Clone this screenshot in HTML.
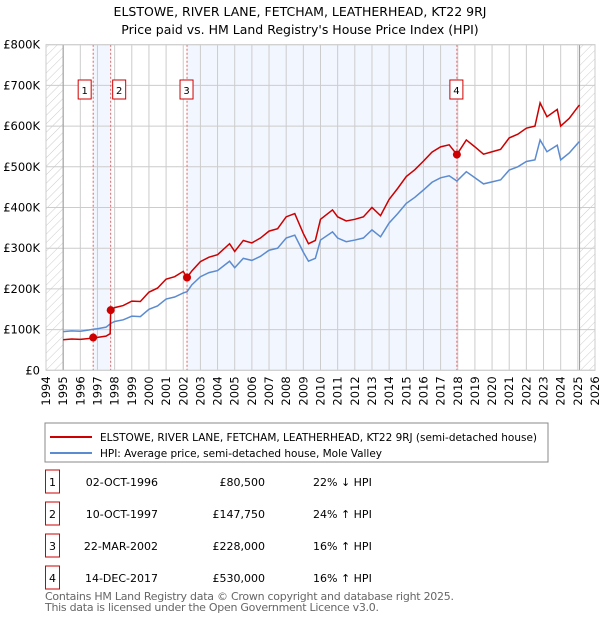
<!DOCTYPE html>
<html><head><meta charset="utf-8"><style>
body{margin:0;background:#fff;font-family:"Liberation Sans","DejaVu Sans",sans-serif}
svg text{font-family:"DejaVu Sans","Liberation Sans",sans-serif}
</style></head><body>
<svg id="c" width="600" height="620" xmlns="http://www.w3.org/2000/svg">
<defs><pattern id="h" width="6" height="6" patternUnits="userSpaceOnUse" patternTransform="rotate(45)"><line x1="0" y1="0" x2="0" y2="6" stroke="#ccc" stroke-width="1"/></pattern></defs>
<text x="300" y="16" text-anchor="middle" font-size="12.5">ELSTOWE, RIVER LANE, FETCHAM, LEATHERHEAD, KT22 9RJ</text>
<text x="300" y="34" text-anchor="middle" font-size="12.5">Price paid vs. HM Land Registry's House Price Index (HPI)</text>
<g id="plot"></g>
<rect x="45" y="423" width="503" height="39" fill="none" stroke="#888"/>
<line x1="50" y1="437" x2="92" y2="437" stroke="#cc0000" stroke-width="2"/>
<text x="100" y="441" font-size="10.5" textLength="437">ELSTOWE, RIVER LANE, FETCHAM, LEATHERHEAD, KT22 9RJ (semi-detached house)</text>
<line x1="50" y1="453" x2="92" y2="453" stroke="#5b8bd0" stroke-width="2"/>
<text x="100" y="457" font-size="10.5" textLength="282">HPI: Average price, semi-detached house, Mole Valley</text>
<g id="tbl" font-size="11"></g>
<text x="45" y="600" font-size="11" fill="#666" textLength="409">Contains HM Land Registry data © Crown copyright and database right 2025.</text>
<text x="45" y="611" font-size="11" fill="#666" textLength="334">This data is licensed under the Open Government Licence v3.0.</text>
</svg>
<script>
const years=[1995.0,1995.5,1996.0,1996.5,1996.75,1997.0,1997.5,1997.74,1997.77,1998.0,1998.5,1999.0,1999.5,2000.0,2000.5,2001.0,2001.5,2002.0,2002.22,2002.5,2003.0,2003.5,2004.0,2004.7,2005.0,2005.5,2006.0,2006.5,2007.0,2007.5,2008.0,2008.5,2009.0,2009.3,2009.7,2010.0,2010.7,2011.0,2011.5,2012.0,2012.5,2013.0,2013.5,2014.0,2014.5,2015.0,2015.5,2016.0,2016.5,2017.0,2017.5,2017.95,2018.5,2019.0,2019.5,2020.0,2020.5,2021.0,2021.5,2022.0,2022.5,2022.8,2023.2,2023.8,2024.0,2024.5,2025.0,2025.1];
const hpiValues=[95,97,96,99,101,102,106,114,115,120,124,133,132,150,158,175,180,190,193,210,230,240,245,268,252,275,270,280,295,300,325,332,290,268,275,320,340,325,316,320,325,345,328,362,385,410,425,443,462,473,478,465,488,473,458,463,468,492,500,513,517,566,537,553,517,534,558,562];
const priceValues=[75,77,76,78,80.5,81,84,90,147.75,154,159,170,169,192,202,224,230,243,228,244,267,278,284,311,292,319,313,325,342,348,377,385,336,311,319,371,394,377,367,371,377,400,380,420,447,476,493,514,536,549,554,530,566,549,531,537,543,571,580,595,600,657,623,641,600,619,647,652];
const saleYears=[1996.75,1997.77,2002.22,2017.95];
const salePrices=[80.5,147.75,228,530];
const saleDates=["02-OCT-1996","10-OCT-1997","22-MAR-2002","14-DEC-2017"];
const saleLabels=["£80,500","£147,750","£228,000","£530,000"];
const saleHpi=["22% ↓ HPI","24% ↑ HPI","16% ↑ HPI","16% ↑ HPI"];
const yTicks=[0,100,200,300,400,500,600,700,800];
const yTickLabels=["£0","£100K","£200K","£300K","£400K","£500K","£600K","£700K","£800K"];
const xTicks=[1994,1995,1996,1997,1998,1999,2000,2001,2002,2003,2004,2005,2006,2007,2008,2009,2010,2011,2012,2013,2014,2015,2016,2017,2018,2019,2020,2021,2022,2023,2024,2025,2026];

const X0=46,X1=595,Y0=370.3,Y1=44.7;
const xs=t=>X0+(t-1994)/(2026-1994)*(X1-X0);
const ys=v=>Y0-v/800*(Y0-Y1);
const NS="http://www.w3.org/2000/svg";
const plot=document.getElementById('plot');
function mk(tag,attrs,parent){const e=document.createElementNS(NS,tag);for(const k in attrs)e.setAttribute(k,attrs[k]);(parent||plot).appendChild(e);return e;}

let e;
e=mk('rect',{x:X0,y:Y1,width:X1-X0,height:Y0-Y1,fill:'#fff'});


for(const [a,b] of [[0,1],[2,3]]){
 e=mk('rect',{x:xs(saleYears[a]),y:Y1,width:xs(saleYears[b])-xs(saleYears[a]),height:Y0-Y1,fill:'#f2f6fe'});
 
 
}
e=mk('rect',{x:X0,y:Y1,width:xs(1995)-X0,height:Y0-Y1,fill:'url(#h)'});


e=mk('rect',{x:xs(2025.1),y:Y1,width:X1-xs(2025.1),height:Y0-Y1,fill:'url(#h)'});


xTicks.forEach((t,i)=>{
 e=mk('line',{x1:xs(t),x2:xs(t),y1:Y1,y2:Y0,stroke:'#ccc','stroke-width':1});
 
 
 e=mk('text',{x:0,y:0,'font-size':11.5,'text-anchor':'end',transform:`translate(${xs(t)+4},${Y0+6}) rotate(-90)`});
 e.textContent=t;
 
 
});
yTicks.forEach((v,i)=>{
 e=mk('line',{x1:X0,x2:X1,y1:ys(v),y2:ys(v),stroke:'#ccc','stroke-width':1});
 
 
 e=mk('text',{x:X0-6,y:ys(v)+4,'font-size':11.5,'text-anchor':'end'});
 e.textContent=yTickLabels[i];
 
 
});
e=mk('line',{x1:xs(1995),x2:xs(1995),y1:Y1,y2:Y0,stroke:'#999'});


e=mk('line',{x1:xs(2025.1),x2:xs(2025.1),y1:Y1,y2:Y0,stroke:'#999'});


saleYears.forEach((t,i)=>{
 e=mk('line',{x1:xs(t),x2:xs(t),y1:Y1,y2:Y0,stroke:'#e06060','stroke-dasharray':'2,2'});
 
 
 const bx=xs(t)+(i===0?-9:i===1?8:-1)-6;
 e=mk('rect',{x:bx,y:80,width:13,height:19,fill:'#fff',stroke:'#cc0000'});
 
 
 e=mk('text',{x:bx+6.5,y:94,'font-size':10,'text-anchor':'middle'});
 e.textContent=i+1;
 
 
});
e=mk('polyline',{points:years.map((t,i)=>xs(t)+','+ys(hpiValues[i])).join(' '),fill:'none',stroke:'#5b8bd0','stroke-width':1.5});


e=mk('polyline',{points:years.map((t,i)=>xs(t)+','+ys(priceValues[i])).join(' '),fill:'none',stroke:'#cc0000','stroke-width':1.5});


saleYears.forEach((t,i)=>{
 e=mk('circle',{cx:xs(t),cy:ys(salePrices[i]),r:4,fill:'#cc0000'});
 
 
});
e=mk('rect',{x:X0,y:Y1,width:X1-X0,height:Y0-Y1,fill:'none',stroke:'#ccc'});



const tbl=document.getElementById('tbl');
const rowY=[482,514,546,578];
saleDates.forEach((d,i)=>{
 const y=rowY[i];
 e=mk('rect',{x:45.5,y:y-12,width:14,height:23,fill:'#fff',stroke:'#cc0000'},tbl);
 
 
 e=mk('text',{x:52.5,y:y+4,'text-anchor':'middle'},tbl);e.textContent=i+1;
 
 
 e=mk('text',{x:158,y:y+4,'text-anchor':'end'},tbl);e.textContent=d;
 
 
 e=mk('text',{x:265,y:y+4,'text-anchor':'end'},tbl);e.textContent=saleLabels[i];
 
 
 e=mk('text',{x:313,y:y+4},tbl);e.textContent=saleHpi[i];
 
 
});
</script>
</body></html>
